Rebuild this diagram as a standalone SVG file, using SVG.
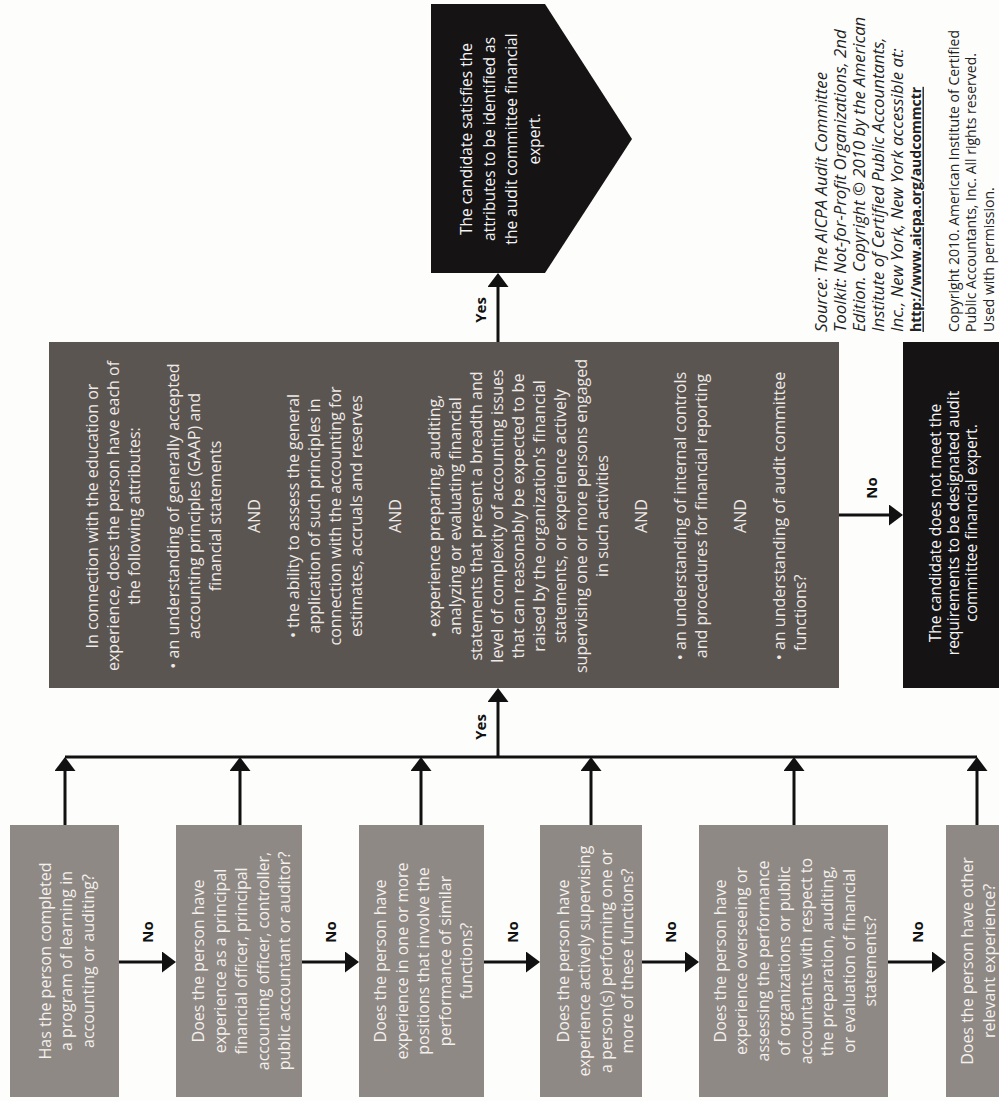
<svg xmlns="http://www.w3.org/2000/svg" width="999" height="1101" viewBox="0 0 999 1101">
<style>
text{font-family:"Open Sans","Noto Sans","Liberation Sans",sans-serif;dominant-baseline:central}
.q rect{fill:#8e8985}
.q text{fill:#f4f0ec;font-size:16px;text-anchor:middle}
.big rect{fill:#5b5552}
.big text{fill:#eeeae6;font-size:16px;text-anchor:middle}
.blk{fill:#151314}
.blkt text{fill:#f4f4f4;font-size:15.5px;text-anchor:middle}
.lbl{font-weight:bold;font-size:15px;fill:#111;text-anchor:middle}
.src text{fill:#222;text-anchor:start}
.it{font-style:italic;font-size:16.8px}
.url{font-weight:bold;font-size:14px;text-decoration:underline}
.cp{font-size:14px}
.c line{stroke:#111;stroke-width:3;fill:none}
</style>
<defs>
<marker id="ah" markerUnits="userSpaceOnUse" markerWidth="15" markerHeight="22" refX="10" refY="10.5" orient="auto">
<path d="M0,0 L14,10.5 L0,21 Z" fill="#111"/>
</marker>
</defs>
<rect width="999" height="1101" fill="#fdfdfc"/>

<g id="satisfies">
<polygon class="blk" points="431,4 545,4 632,139 545,273 431,273"/>
<g class="blkt" transform="translate(0,139) rotate(-90)">
<text x="0" y="466">The candidate satisfies the</text>
<text x="0" y="488.5">attributes to be identified as</text>
<text x="0" y="511">the audit committee financial</text>
<text x="0" y="533.5">expert.</text>
</g>
</g>

<g id="attributes" class="big">
<rect x="49" y="342" width="790" height="346"/>
<g transform="translate(0,516) rotate(-90)">
<text x="0" y="92">In connection with the education or</text>
<text x="0" y="113">experience, does the person have each of</text>
<text x="0" y="134">the following attributes:</text>
<text x="0" y="173">• an understanding of generally accepted</text>
<text x="0" y="194">accounting principles (GAAP) and</text>
<text x="0" y="215">financial statements</text>
<text x="0" y="254">AND</text>
<text x="0" y="293">• the ability to assess the general</text>
<text x="0" y="314">application of such principles in</text>
<text x="0" y="335">connection with the accounting for</text>
<text x="0" y="356">estimates, accruals and reserves</text>
<text x="0" y="395">AND</text>
<text x="0" y="434">• experience preparing, auditing,</text>
<text x="0" y="455">analyzing or evaluating financial</text>
<text x="0" y="476">statements that present a breadth and</text>
<text x="0" y="497">level of complexity of accounting issues</text>
<text x="0" y="518">that can reasonably be expected to be</text>
<text x="0" y="539">raised by the organization's financial</text>
<text x="0" y="560">statements, or experience actively</text>
<text x="0" y="581">supervising one or more persons engaged</text>
<text x="0" y="602">in such activities</text>
<text x="0" y="641">AND</text>
<text x="0" y="680">• an understanding of internal controls</text>
<text x="0" y="701">and procedures for financial reporting</text>
<text x="0" y="740">AND</text>
<text x="0" y="779">• an understanding of audit committee</text>
<text x="-135" y="800" style="text-anchor:start">functions?</text>
</g>
</g>

<g id="not-meet">
<rect class="blk" x="903" y="342" width="110" height="346"/>
<g class="blkt" transform="translate(0,523) rotate(-90)">
<text x="0" y="935">The candidate does not meet the</text>
<text x="0" y="953">requirements to be designated audit</text>
<text x="0" y="971">committee financial expert.</text>
</g>
</g>

<g id="q1" class="q">
<rect x="10" y="825" width="109" height="272"/>
<g transform="translate(66,961) rotate(-90)">
<text x="0" y="-21.5">Has the person completed</text>
<text x="0" y="0">a program of learning in</text>
<text x="0" y="21.5">accounting or auditing?</text>
</g>
</g>
<g id="q2" class="q">
<rect x="176" y="825" width="126" height="272"/>
<g transform="translate(241,961) rotate(-90)">
<text x="0" y="-43">Does the person have</text>
<text x="0" y="-21.5">experience as a principal</text>
<text x="0" y="0">financial officer, principal</text>
<text x="0" y="21.5">accounting officer, controller,</text>
<text x="0" y="43">public accountant or auditor?</text>
</g>
</g>
<g id="q3" class="q">
<rect x="359" y="825" width="125" height="272"/>
<g transform="translate(423,961) rotate(-90)">
<text x="0" y="-43">Does the person have</text>
<text x="0" y="-21.5">experience in one or more</text>
<text x="0" y="0">positions that involve the</text>
<text x="0" y="21.5">performance of similar</text>
<text x="0" y="43">functions?</text>
</g>
</g>
<g id="q4" class="q">
<rect x="540" y="825" width="102" height="272"/>
<g transform="translate(595,961) rotate(-90)">
<text x="0" y="-32.25">Does the person have</text>
<text x="0" y="-10.75">experience actively supervising</text>
<text x="0" y="10.75">a person(s) performing one or</text>
<text x="0" y="32.25">more of these functions?</text>
</g>
</g>
<g id="q5" class="q">
<rect x="699" y="825" width="189" height="272"/>
<g transform="translate(795,961) rotate(-90)">
<text x="0" y="-75.25">Does the person have</text>
<text x="0" y="-53.75">experience overseeing or</text>
<text x="0" y="-32.25">assessing the performance</text>
<text x="0" y="-10.75">of organizations or public</text>
<text x="0" y="10.75">accountants with respect to</text>
<text x="0" y="32.25">the preparation, auditing,</text>
<text x="0" y="53.75">or evaluation of financial</text>
<text x="0" y="75.25">statements?</text>
</g>
</g>
<g id="q6" class="q">
<rect x="946" y="825" width="70" height="272"/>
<g transform="translate(978,961) rotate(-90)">
<text x="0" y="-10.75">Does the person have other</text>
<text x="0" y="10.75">relevant experience?</text>
</g>
</g>

<g id="source" class="src" transform="translate(0,332) rotate(-90)">
<text class="it" x="0" y="820">Source: The AICPA Audit Committee</text>
<text class="it" x="0" y="839">Toolkit: Not-for-Profit Organizations, 2nd</text>
<text class="it" x="0" y="858">Edition. Copyright © 2010 by the American</text>
<text class="it" x="0" y="877">Institute of Certified Public Accountants,</text>
<text class="it" x="0" y="896">Inc., New York, New York accessible at:</text>
<text class="url" x="0" y="915">http://www.aicpa.org/audcommctr</text>
<text class="cp" x="0" y="953">Copyright 2010. American Institute of Certified</text>
<text class="cp" x="0" y="970">Public Accountants, Inc.  All rights reserved.</text>
<text class="cp" x="0" y="988">Used with permission.</text>
</g>

<g id="connectors" class="c">
<line x1="65" y1="757" x2="977" y2="757"/>
<line x1="65" y1="825" x2="65" y2="761" marker-end="url(#ah)"/>
<line x1="240" y1="825" x2="240" y2="761" marker-end="url(#ah)"/>
<line x1="421" y1="825" x2="421" y2="761" marker-end="url(#ah)"/>
<line x1="591" y1="825" x2="591" y2="761" marker-end="url(#ah)"/>
<line x1="794" y1="825" x2="794" y2="761" marker-end="url(#ah)"/>
<line x1="977" y1="825" x2="977" y2="761" marker-end="url(#ah)"/>
<line x1="498" y1="757" x2="498" y2="692" marker-end="url(#ah)"/>
<line x1="498" y1="342" x2="498" y2="277" marker-end="url(#ah)"/>
<line x1="119" y1="962" x2="172" y2="962" marker-end="url(#ah)"/>
<line x1="302" y1="962" x2="355" y2="962" marker-end="url(#ah)"/>
<line x1="484" y1="962" x2="536" y2="962" marker-end="url(#ah)"/>
<line x1="642" y1="962" x2="695" y2="962" marker-end="url(#ah)"/>
<line x1="888" y1="962" x2="942" y2="962" marker-end="url(#ah)"/>
<line x1="839" y1="515" x2="899" y2="515" marker-end="url(#ah)"/>
</g>

<g id="labels">
<text class="lbl" transform="translate(480,310) rotate(-90)">Yes</text>
<text class="lbl" transform="translate(480,727) rotate(-90)">Yes</text>
<text class="lbl" transform="translate(147,932) rotate(-90)">No</text>
<text class="lbl" transform="translate(330,932) rotate(-90)">No</text>
<text class="lbl" transform="translate(512,932) rotate(-90)">No</text>
<text class="lbl" transform="translate(670,932) rotate(-90)">No</text>
<text class="lbl" transform="translate(917,932) rotate(-90)">No</text>
<text class="lbl" transform="translate(871,488) rotate(-90)">No</text>
</g>
</svg>
